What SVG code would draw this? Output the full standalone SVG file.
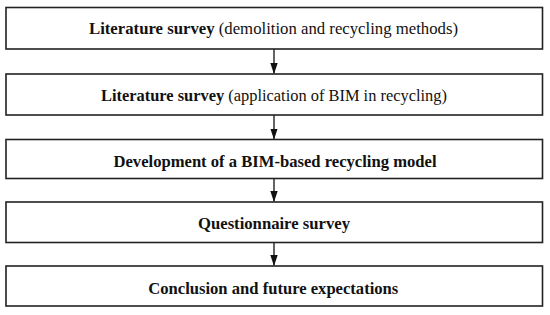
<svg xmlns="http://www.w3.org/2000/svg" width="550" height="315" viewBox="0 0 550 315">
<style>
.box{fill:#fff;stroke:#222;stroke-width:1.6}
.t{font-family:"Liberation Serif","Times New Roman",serif;font-size:16.5px;fill:#111;text-anchor:middle}
.b{font-weight:bold}
.c{stroke:#111;stroke-width:1.3;fill:none}
</style>
<defs>
<marker id="ah" markerWidth="11" markerHeight="8" refX="10.5" refY="4" orient="auto" markerUnits="userSpaceOnUse" viewBox="0 0 11 8">
<path d="M0,0.3 L11,4 L0,7.7 Z" fill="#111"/>
</marker>
</defs>
<rect width="550" height="315" fill="#fff"/>
<g id="connectors">
<line class="c" x1="274" y1="49" x2="274" y2="73.5" marker-end="url(#ah)"/>
<line class="c" x1="274" y1="115" x2="274" y2="139" marker-end="url(#ah)"/>
<line class="c" x1="274" y1="178.5" x2="274" y2="201.5" marker-end="url(#ah)"/>
<line class="c" x1="274" y1="242.5" x2="274" y2="265.5" marker-end="url(#ah)"/>
</g>
<g id="n1">
<rect class="box" x="6" y="7.5" width="536.5" height="41.5"/>
<text class="t" x="273.5" y="34" textLength="369" lengthAdjust="spacingAndGlyphs"><tspan class="b">Literature survey</tspan> (demolition and recycling methods)</text>
</g>
<g id="n2">
<rect class="box" x="6" y="74" width="536.5" height="41"/>
<text class="t" x="274" y="101" textLength="346" lengthAdjust="spacingAndGlyphs"><tspan class="b">Literature survey</tspan> (application of BIM in recycling)</text>
</g>
<g id="n3">
<rect class="box" x="6" y="139.5" width="536.5" height="39"/>
<text class="t b" x="275" y="166.5" textLength="323" lengthAdjust="spacingAndGlyphs">Development of a BIM-based recycling model</text>
</g>
<g id="n4">
<rect class="box" x="6" y="202" width="536.5" height="40.5"/>
<text class="t b" x="274" y="229" textLength="152" lengthAdjust="spacingAndGlyphs">Questionnaire survey</text>
</g>
<g id="n5">
<rect class="box" x="6" y="266" width="536.5" height="40"/>
<text class="t b" x="273.3" y="294" textLength="250" lengthAdjust="spacingAndGlyphs">Conclusion and future expectations</text>
</g>
</svg>
